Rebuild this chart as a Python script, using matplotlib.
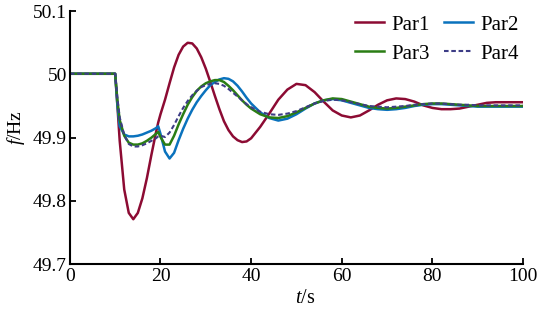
import matplotlib
matplotlib.use("Agg")
import matplotlib.pyplot as plt
import numpy as np

plt.rcParams['font.family'] = ['Liberation Serif', 'DejaVu Serif']
plt.rcParams['mathtext.fontset'] = 'custom'
plt.rcParams['mathtext.rm'] = 'Liberation Serif'
plt.rcParams['mathtext.it'] = 'Liberation Serif:italic'

# time axis, s
t = [0, 10, 10.5, 11, 12, 13, 14, 15, 16, 17, 18, 19, 19.5, 20, 21, 22, 23, 24, 25,
     26, 27, 28, 29, 30, 31, 32, 33, 34, 35, 36, 37, 38, 39, 40,
     42, 44, 46, 48, 50, 52, 54, 56, 58, 60, 62, 64, 66, 68, 70,
     72, 74, 76, 78, 80, 82, 84, 86, 88, 90, 92, 94, 96, 98, 100]

# frequency, Hz
par1 = [50.001, 50.001, 49.950, 49.895, 49.818, 49.781, 49.771, 49.781, 49.804, 49.836,
        49.873, 49.908, 49.924, 49.937, 49.960, 49.986, 50.011, 50.031, 50.044,
        50.050, 50.049, 50.041, 50.027, 50.009, 49.988, 49.966, 49.945, 49.926, 49.912, 49.902,
        49.896, 49.893, 49.894, 49.899,
        49.917, 49.938, 49.960, 49.976, 49.985, 49.983, 49.972, 49.957, 49.943, 49.935,
        49.932, 49.935, 49.943, 49.952, 49.959,
        49.962, 49.961, 49.957, 49.951, 49.947, 49.945, 49.945, 49.946, 49.949, 49.952,
        49.955, 49.956, 49.956, 49.956, 49.956]

par2 = [50.001, 50.001, 49.950, 49.918, 49.905, 49.902, 49.902, 49.903, 49.905, 49.908,
        49.911, 49.915, 49.918, 49.906, 49.878, 49.867, 49.876, 49.896, 49.914,
        49.930, 49.944, 49.956, 49.966, 49.975, 49.983, 49.988, 49.992, 49.994, 49.993, 49.989,
        49.982, 49.973, 49.963, 49.954,
        49.940, 49.931, 49.927, 49.930, 49.937, 49.946, 49.954, 49.959, 49.961, 49.959,
        49.955, 49.951, 49.947, 49.945, 49.944,
        49.945, 49.947, 49.950, 49.952, 49.953, 49.953, 49.952, 49.951, 49.950, 49.949,
        49.949, 49.949, 49.949, 49.949, 49.949]

par3 = [50.001, 50.001, 49.958, 49.928, 49.903, 49.892, 49.889, 49.889, 49.891, 49.895,
        49.900, 49.906, 49.909, 49.901, 49.889, 49.889, 49.903, 49.921, 49.937,
        49.952, 49.964, 49.974, 49.981, 49.986, 49.989, 49.991, 49.991, 49.988, 49.982, 49.975,
        49.967, 49.959, 49.952, 49.946,
        49.937, 49.932, 49.931, 49.934, 49.940, 49.947, 49.954, 49.959, 49.962, 49.961,
        49.957, 49.953, 49.949, 49.947, 49.946,
        49.947, 49.949, 49.951, 49.953, 49.954, 49.954, 49.953, 49.952, 49.951, 49.950,
        49.950, 49.950, 49.950, 49.950, 49.950]

par4 = [50.001, 50.001, 49.962, 49.932, 49.904, 49.890, 49.886, 49.886, 49.888, 49.891,
        49.895, 49.899, 49.902, 49.903, 49.901, 49.908, 49.920, 49.934, 49.947,
        49.958, 49.967, 49.974, 49.980, 49.983, 49.985, 49.986, 49.985, 49.982, 49.977, 49.971,
        49.965, 49.959, 49.953, 49.948,
        49.941, 49.937, 49.936, 49.938, 49.942, 49.948, 49.954, 49.958, 49.960, 49.959,
        49.956, 49.953, 49.950, 49.949, 49.948,
        49.949, 49.950, 49.952, 49.953, 49.954, 49.954, 49.953, 49.952, 49.952, 49.951,
        49.951, 49.951, 49.951, 49.951, 49.951]

names = ['Par1', 'Par2', 'Par3', 'Par4']
colors = ['#8c0b33', '#0a72bd', '#2a7d14', '#3d3d86']

xticks = [0, 20, 40, 60, 80, 100]
yticks = [49.7, 49.8, 49.9, 50.0, 50.1]
ylabels = ['49.7', '49.8', '49.9', '50', '50.1']

fig = plt.figure(figsize=(5.5, 3.1), dpi=100)
ax = fig.add_axes([0.127, 0.148, 0.824, 0.816])

l1, = ax.plot(t, par1, color=colors[0], lw=1.8, label=names[0])
l2, = ax.plot(t, par2, color=colors[1], lw=1.8, label=names[1])
l3, = ax.plot(t, par3, color=colors[2], lw=1.8, label=names[2])
l4, = ax.plot(t, par4, color=colors[3], lw=1.5, ls=(0, (2.2, 1.3)), label=names[3])

ax.set_xlim(0, 100)
ax.set_ylim(49.7, 50.1)
ax.set_xticks(xticks)
ax.set_yticks(yticks)
ax.set_yticklabels(ylabels)
ax.spines['top'].set_visible(False)
ax.spines['right'].set_visible(False)
for s in ['left', 'bottom']:
    ax.spines[s].set_linewidth(1.5)
ax.tick_params(direction='in', length=4, width=1.3, labelsize=14)
ax.tick_params(axis='y', pad=2)
ax.tick_params(axis='x', pad=3)

ax.set_xlabel('$t$/s', fontsize=14.5)
ax.xaxis.set_label_coords(0.52, -0.10)
ax.set_ylabel('$f$/Hz', fontsize=14)
ax.yaxis.set_label_coords(-0.095, 0.54)

# row-wise legend: Par1 Par2 / Par3 Par4
ax.legend([l1, l3, l2, l4], [names[0], names[2], names[1], names[3]],
          ncol=2, loc='upper right', bbox_to_anchor=(519 / 550, 1 - 15 / 310),
          bbox_transform=fig.transFigure, frameon=False, borderpad=0, borderaxespad=0,
          fontsize=15, handlelength=1.4, columnspacing=0.7, handletextpad=0.35,
          labelspacing=0.45)

fig.savefig('out.png', dpi=100)
